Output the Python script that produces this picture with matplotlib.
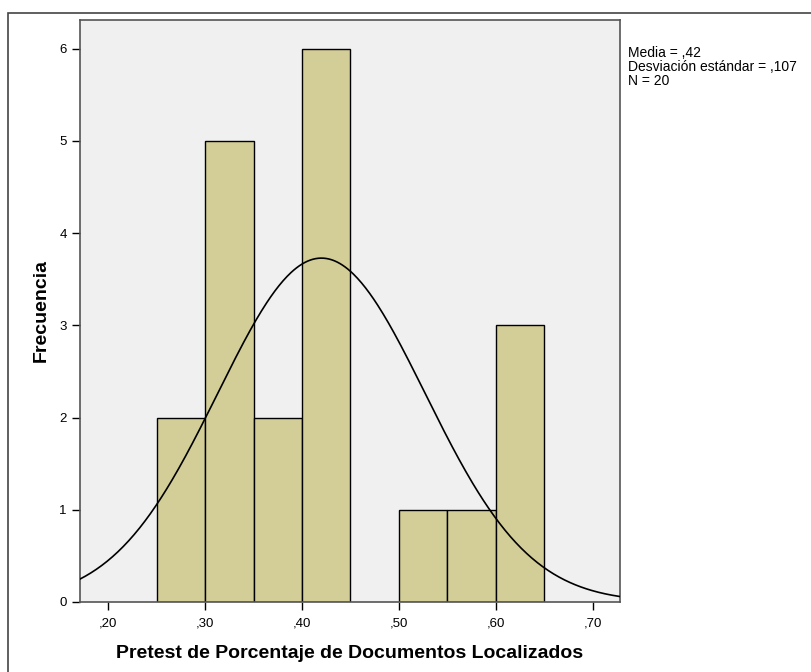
import numpy as np
import matplotlib
matplotlib.use("Agg")
import matplotlib.pyplot as plt
from matplotlib.patches import Rectangle

plt.rcParams['font.family'] = ['Liberation Sans', 'DejaVu Sans']

bin_edges = [0.25, 0.30, 0.35, 0.40, 0.45, 0.50, 0.55, 0.60, 0.65]
counts = [2, 5, 2, 6, 0, 1, 1, 3]
mean = 0.42
sd = 0.107
n = 20
x_ticks = [0.20, 0.30, 0.40, 0.50, 0.60, 0.70]
x_tick_labels = [",20", ",30", ",40", ",50", ",60", ",70"]
y_ticks = [0, 1, 2, 3, 4, 5, 6]
stats_text = "Media = ,42\nDesviación estándar = ,107\nN = 20"

W, H = 811, 672
fig = plt.figure(figsize=(W / 100, H / 100), dpi=100)
ax = fig.add_axes([80 / W, 1 - 602 / H, (620 - 80) / W, (602 - 20) / H])
ax.set_facecolor('#F0F0F0')

widths = np.diff(bin_edges)
for left, w, c in zip(bin_edges[:-1], widths, counts):
    if c > 0:
        ax.bar(left, c, width=w, align='edge', color='#D3CE97',
               edgecolor='black', linewidth=1.0, zorder=2)

xs = np.linspace(0.171, 0.728, 400)
bw = bin_edges[1] - bin_edges[0]
ys = n * bw / (sd * np.sqrt(2 * np.pi)) * np.exp(-0.5 * ((xs - mean) / sd) ** 2)
ax.plot(xs, ys, color='black', linewidth=1.2, zorder=3)

ax.set_xlim(0.171, 0.728)
ax.set_ylim(0, 6.31)
ax.set_xticks(x_ticks)
ax.set_xticklabels(x_tick_labels)
ax.set_yticks(y_ticks)
ax.tick_params(axis='both', direction='out', length=6, width=1, labelsize=9.5,
               colors='black')
ax.tick_params(axis='x', pad=5)
for s in ax.spines.values():
    s.set_color('#555555')
    s.set_linewidth(1.2)

ax.set_xlabel("Pretest de Porcentaje de Documentos Localizados",
              fontsize=14, fontweight='bold', labelpad=11)
ax.set_ylabel("Frecuencia", fontsize=14, fontweight='bold', labelpad=7)

fig.text(628 / W, 1 - 46 / H, stats_text, fontsize=10, va='top', ha='left',
         linespacing=1.0)

frame = Rectangle((8 / W, -0.1), 1.2, 1 - 13 / H + 0.1, transform=fig.transFigure,
                  fill=False, edgecolor='#444444', linewidth=1.2)
fig.patches.append(frame)

fig.savefig("out.png", dpi=100)
